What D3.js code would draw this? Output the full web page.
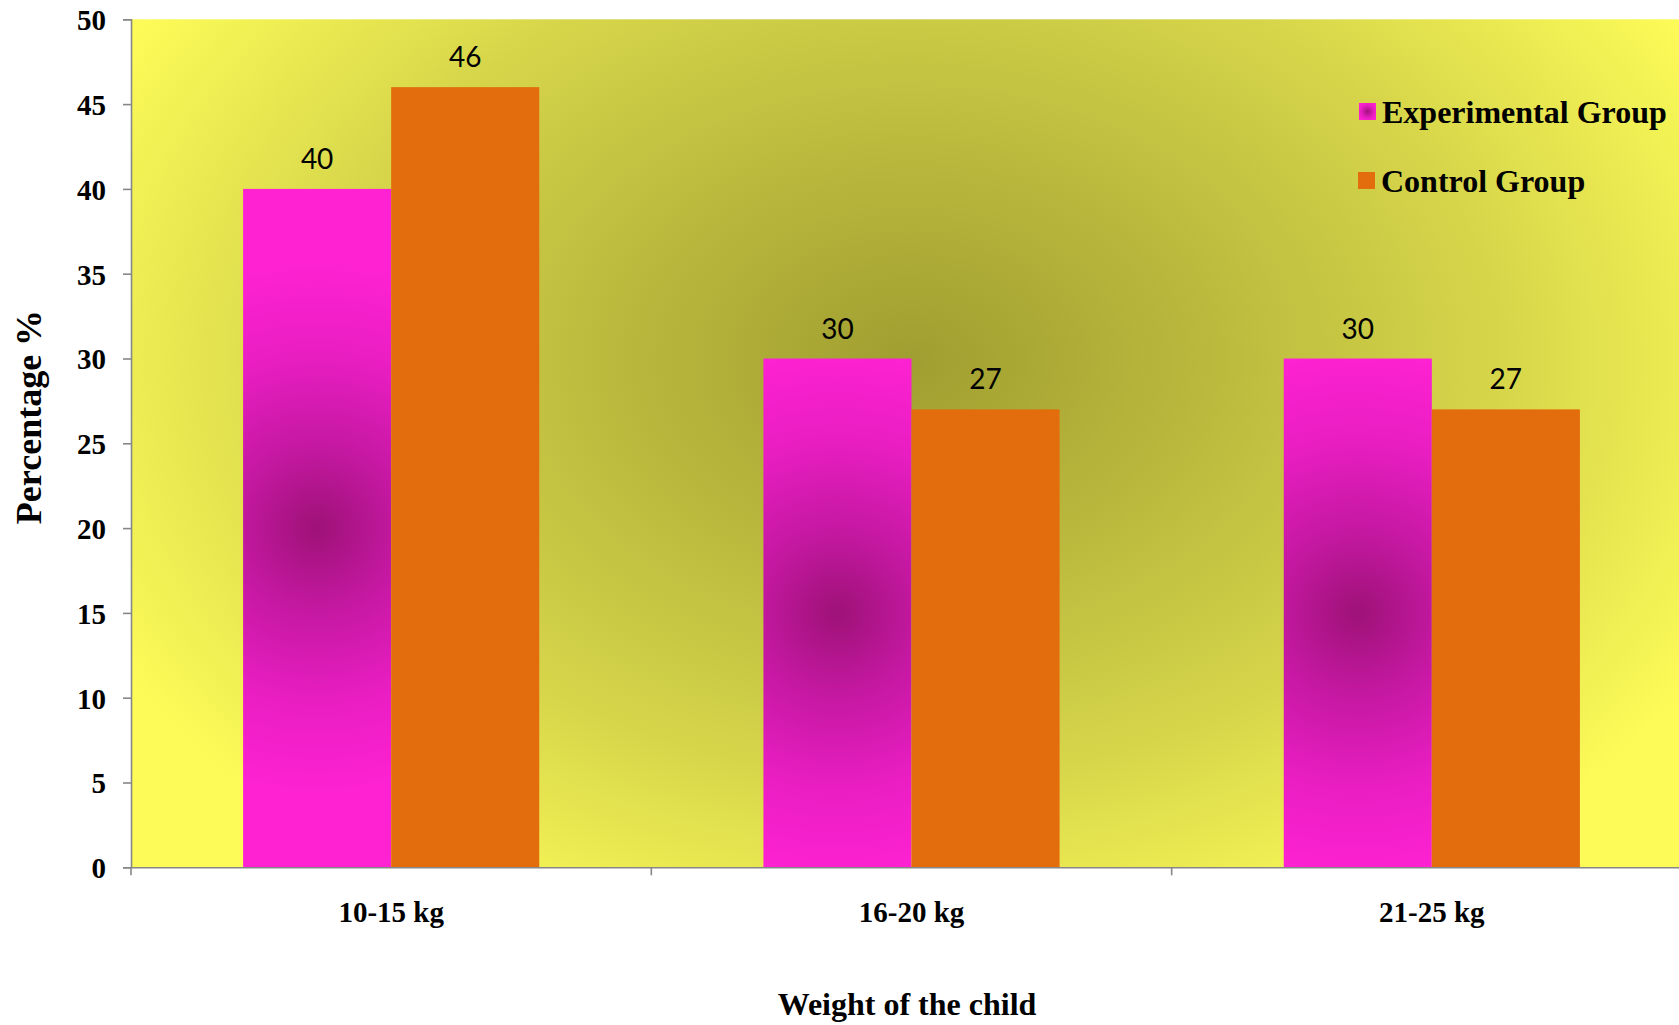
<!DOCTYPE html>
<html>
<head>
<meta charset="utf-8">
<script src="https://cdn.jsdelivr.net/npm/d3@7"></script>
<style>
  html, body { margin: 0; padding: 0; background: #ffffff; overflow: hidden; }
  svg { display: block; }
</style>
</head>
<body>
<svg id="chart" width="1679" height="1025"></svg>
<script>
// ---- data ----
const categories = ["10-15 kg", "16-20 kg", "21-25 kg"];
const seriesNames = ["Experimental Group", "Control Group"];
const experimentalValues = [40, 30, 30];
const controlValues = [46, 27, 27];
const yTickValues = [0, 5, 10, 15, 20, 25, 30, 35, 40, 45, 50];
const xAxisTitle = "Weight of the child";
const yAxisTitle = "Percentage %";

const rows = categories.map((c, i) => ({
  category: c,
  idx: i,
  values: [
    { series: seriesNames[0], value: experimentalValues[i], idx: i },
    { series: seriesNames[1], value: controlValues[i], idx: i }
  ]
}));

const svg = d3.select("#chart");
const plotLeft = 131, plotTop = 19.3, plotBottom = 867.3, plotRight = 1692;

const x0 = d3.scaleBand().domain(categories).range([plotLeft, plotRight]).paddingInner(0).paddingOuter(0);
const x1 = d3.scaleBand().domain(seriesNames).range([0, x0.bandwidth()]).paddingInner(0).paddingOuter(0.757);
const y = d3.scaleLinear().domain([0, 50]).range([plotBottom, plotTop]);
const orange = "#e36c0d";

const defs = svg.append("defs");
const bg = defs.append("radialGradient")
  .attr("id", "bgGrad")
  .attr("gradientUnits", "userSpaceOnUse")
  .attr("cx", 0).attr("cy", 0).attr("r", 1)
  .attr("gradientTransform", "translate(911,360) scale(900,640)");
bg.append("stop").attr("offset", 0).attr("stop-color", "#a09e30");
bg.append("stop").attr("offset", 0.35).attr("stop-color", "#bcbb3e");
bg.append("stop").attr("offset", 0.65).attr("stop-color", "#d6d54a");
bg.append("stop").attr("offset", 1).attr("stop-color", "#fcfb58");

// per-bar pink gradients, centred on each experimental bar (group-local coords)
function pinkStops(g) {
  g.append("stop").attr("offset", 0).attr("stop-color", "#9e1277");
  g.append("stop").attr("offset", 0.3).attr("stop-color", "#c418a1");
  g.append("stop").attr("offset", 0.65).attr("stop-color", "#e91ec2");
  g.append("stop").attr("offset", 1).attr("stop-color", "#ff22d3");
}
experimentalValues.forEach((v, i) => {
  const g = defs.append("radialGradient")
    .attr("id", "pinkGrad" + i)
    .attr("gradientUnits", "userSpaceOnUse")
    .attr("cx", x1(seriesNames[0]) + x1.bandwidth() / 2)
    .attr("cy", (y(v) + y(0)) / 2)
    .attr("r", 270);
  pinkStops(g);
});
const lg = defs.append("radialGradient").attr("id", "pinkLegend")
  .attr("cx", 0.5).attr("cy", 0.5).attr("r", 0.6);
pinkStops(lg);

svg.append("rect")
  .attr("x", plotLeft).attr("y", plotTop)
  .attr("width", plotRight - plotLeft).attr("height", plotBottom - plotTop)
  .attr("fill", "url(#bgGrad)");

const groups = svg.append("g").selectAll("g").data(rows).join("g")
  .attr("transform", d => `translate(${x0(d.category)},0)`);

groups.selectAll("rect").data(d => d.values).join("rect")
  .attr("x", d => x1(d.series))
  .attr("y", d => y(d.value))
  .attr("width", x1.bandwidth())
  .attr("height", d => y(0) - y(d.value))
  .attr("fill", d => d.series === seriesNames[0] ? `url(#pinkGrad${d.idx})` : orange);

groups.selectAll("text").data(d => d.values).join("text")
  .attr("x", d => x1(d.series) + x1.bandwidth() / 2)
  .attr("y", d => y(d.value) - 20)
  .attr("text-anchor", "middle")
  .attr("font-family", "Lato, 'Open Sans', sans-serif")
  .attr("font-size", 28)
  .attr("fill", "#000")
  .text(d => d.value);

const yAxis = svg.append("g")
  .attr("transform", `translate(${plotLeft},0)`)
  .call(d3.axisLeft(y).tickValues(yTickValues).tickSize(8).tickPadding(17).tickFormat(d3.format("d")));
yAxis.select(".domain").attr("stroke", "#878787").attr("stroke-width", 1.6);
yAxis.selectAll(".tick line").attr("stroke", "#878787").attr("stroke-width", 1.6);
yAxis.selectAll(".tick text")
  .attr("font-family", "'Liberation Serif', 'Times New Roman', serif")
  .attr("font-weight", "bold")
  .attr("font-size", 29)
  .attr("fill", "#000")
  .attr("dy", "0.36em");

const xAxis = svg.append("g")
  .attr("transform", `translate(0,${plotBottom})`)
  .call(d3.axisBottom(x0).tickSize(0).tickPadding(34));
xAxis.select(".domain").attr("stroke", "#878787").attr("stroke-width", 1.6);
xAxis.selectAll(".tick text")
  .attr("font-family", "'Liberation Serif', 'Times New Roman', serif")
  .attr("font-weight", "bold")
  .attr("font-size", 29)
  .attr("fill", "#000");
xAxis.selectAll("line.bound").data(categories).join("line")
  .attr("class", "bound")
  .attr("x1", d => x0(d)).attr("x2", d => x0(d))
  .attr("y1", 0).attr("y2", 8)
  .attr("stroke", "#878787").attr("stroke-width", 1.6);

svg.append("text")
  .attr("x", 907).attr("y", 1015)
  .attr("text-anchor", "middle")
  .attr("font-family", "'Liberation Serif', 'Times New Roman', serif")
  .attr("font-weight", "bold")
  .attr("font-size", 32)
  .attr("fill", "#000")
  .text(xAxisTitle);

svg.append("text")
  .attr("transform", "translate(41,417) rotate(-90)")
  .attr("text-anchor", "middle")
  .attr("font-family", "'Liberation Serif', 'Times New Roman', serif")
  .attr("font-weight", "bold")
  .attr("font-size", 36)
  .attr("fill", "#000")
  .text(yAxisTitle);

const legend = svg.append("g").attr("transform", "translate(1359,103)");
const li = legend.selectAll("g").data(seriesNames).join("g")
  .attr("transform", (d, i) => `translate(${-i},${i * 69})`);
li.append("rect")
  .attr("width", 17).attr("height", 17)
  .attr("fill", (d, i) => i === 0 ? "url(#pinkLegend)" : orange);
li.append("text")
  .attr("x", 23).attr("y", 20)
  .attr("font-family", "'Liberation Serif', 'Times New Roman', serif")
  .attr("font-weight", "bold")
  .attr("font-size", 32)
  .attr("fill", "#000")
  .text(d => d);
</script>
</body>
</html>
